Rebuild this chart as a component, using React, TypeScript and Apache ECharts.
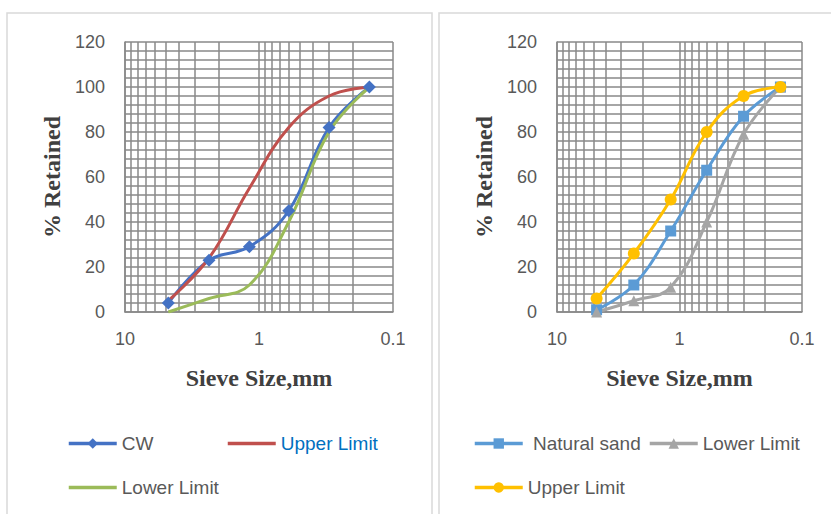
import { useEffect, useRef } from 'react';
import * as echarts from 'echarts';

// ---- data ----
const sieveSizes = [4.75, 2.36, 1.18, 0.6, 0.3, 0.15];
const cwRetained = [4, 23, 29, 45, 82, 100];
const cwUpperLimit = [5, 24, 55, 82, 96, 100];
const cwLowerLimit = [0, 6, 12, 40, 80, 100];
const sandRetained = [1, 12, 36, 63, 87, 100];
const sandLowerLimit = [0, 5, 11, 40, 79, 100];
const sandUpperLimit = [6, 26, 50, 80, 96, 100];
const minorSieveLines = [9, 8, 7, 6, 5, 4, 3, 2, 0.9, 0.8, 0.7, 0.6, 0.5, 0.4, 0.3, 0.2];
const xMin = 0.1;
const xMax = 10;
const yMin = 0;
const yMax = 120;
const yStep = 20;

const LABEL_FONT = "'Liberation Sans', Arial, sans-serif";
const TITLE_FONT = "'Liberation Serif', 'Times New Roman', serif";
const GRID_COLOR = '#888888';

type SeriesCfg = {
  name: string;
  values: number[];
  color: string;
  symbol: string;
  symbolSize: number;
  legendLeft: number;
  legendTop: number;
  legendTextColor?: string;
  legendFormatter?: string;
};

const pairs = (ys: number[]) => sieveSizes.map((x, i) => [x, ys[i]]);

function makeOption(gridLeft: number, gridWidth: number, frameX: number, frameW: number, series: SeriesCfg[]) {
  const titleStyle = { fontFamily: TITLE_FONT, fontWeight: 'bold', fontSize: 24, color: '#404040' };
  const labelStyle = { fontFamily: LABEL_FONT, fontSize: 18, color: '#595959' };
  const gridLine = { color: GRID_COLOR, width: 1.5, type: 'solid' };
  return {
    animation: false,
    backgroundColor: '#ffffff',
    graphic: [
      {
        type: 'rect',
        silent: true,
        shape: { x: frameX, y: 13, width: frameW, height: 560 },
        style: { fill: 'none', stroke: '#d9d9d9', lineWidth: 1.5 },
      },
    ],
    grid: { left: gridLeft, top: 42, width: gridWidth, height: 270 },
    xAxis: {
      type: 'log',
      logBase: 10,
      min: xMin,
      max: xMax,
      inverse: true,
      name: 'Sieve Size,mm',
      nameLocation: 'middle',
      nameGap: 54,
      nameTextStyle: titleStyle,
      axisLine: { show: true, lineStyle: gridLine },
      axisTick: { show: false },
      axisLabel: { ...labelStyle, margin: 18 },
      splitLine: { show: true, lineStyle: gridLine },
    },
    yAxis: {
      type: 'value',
      min: yMin,
      max: yMax,
      interval: yStep,
      name: '% Retained',
      nameLocation: 'middle',
      nameGap: 60,
      nameTextStyle: titleStyle,
      axisLine: { show: true, lineStyle: gridLine },
      axisTick: { show: false },
      axisLabel: { ...labelStyle, margin: 20 },
      splitLine: { show: true, lineStyle: gridLine },
      minorTick: { show: false, splitNumber: 5 },
      minorSplitLine: { show: true, lineStyle: gridLine },
    },
    legend: series.map((s) => ({
      data: [
        {
          name: s.name,
          textStyle: s.legendTextColor ? { color: s.legendTextColor } : undefined,
          itemStyle: s.symbol === 'none' ? { color: 'rgba(0,0,0,0)', borderWidth: 0, opacity: 0 } : undefined,
        },
      ],
      left: s.legendLeft,
      top: s.legendTop,
      padding: 0,
      itemWidth: 48,
      itemHeight: 13,
      selectedMode: false,
      lineStyle: { width: 3.5 },
      formatter: s.legendFormatter || '{name}',
      textStyle: { fontFamily: LABEL_FONT, fontSize: 19, color: '#595959' },
    })),
    series: [
      {
        type: 'line',
        name: 'minor-grid',
        data: [],
        z: 1,
        silent: true,
        markLine: {
          silent: true,
          z: 1,
          symbol: 'none',
          label: { show: false },
          emphasis: { disabled: true },
          lineStyle: gridLine,
          data: minorSieveLines.map((v) => ({ xAxis: v })),
        },
      },
      ...series.map((s) => ({
        type: 'line',
        name: s.name,
        data: pairs(s.values),
        smooth: 0.4,
        symbol: s.symbol,
        symbolSize: s.symbolSize,
        showSymbol: s.symbol !== 'none',
        lineStyle: { color: s.color, width: 3 },
        itemStyle: { color: s.color },
        z: 5,
      })),
    ],
  };
}

const leftSeries: SeriesCfg[] = [
  { name: 'CW', values: cwRetained, color: '#4472C4', symbol: 'diamond', symbolSize: 13, legendLeft: 67, legendTop: 434 },
  { name: 'Upper Limit', values: cwUpperLimit, color: '#C0504D', symbol: 'none', symbolSize: 0, legendLeft: 226, legendTop: 434, legendTextColor: '#0070C0' },
  { name: 'Lower Limit', values: cwLowerLimit, color: '#9BBB59', symbol: 'none', symbolSize: 0, legendLeft: 67, legendTop: 478 },
];

const rightSeries: SeriesCfg[] = [
  { name: 'Natural sand', values: sandRetained, color: '#5B9BD5', symbol: 'rect', symbolSize: 11, legendLeft: 37, legendTop: 434, legendFormatter: ' {name}' },
  { name: 'Lower Limit', values: sandLowerLimit, color: '#A5A5A5', symbol: 'triangle', symbolSize: 11, legendLeft: 212, legendTop: 434 },
  { name: 'Upper Limit', values: sandUpperLimit, color: '#FFC000', symbol: 'circle', symbolSize: 12, legendLeft: 37, legendTop: 478 },
];

function Panel({ left, width, option }: { left: number; width: number; option: any }) {
  const ref = useRef<HTMLDivElement>(null);
  useEffect(() => {
    if (!ref.current) return;
    const chart = echarts.init(ref.current, null, { renderer: 'svg' });
    chart.setOption(option);
    return () => chart.dispose();
  }, [option]);
  return <div ref={ref} style={{ position: 'fixed', left, top: 0, width, height: 514 }} />;
}

const leftOption = makeOption(125, 268, 7, 425, leftSeries);
const rightOption = makeOption(121, 245, 3, 400, rightSeries);

export default function App() {
  return (
    <div style={{ position: 'fixed', left: 0, top: 0, width: 831, height: 514, background: '#fff' }}>
      <Panel left={0} width={436} option={leftOption} />
      <Panel left={436} width={395} option={rightOption} />
    </div>
  );
}
